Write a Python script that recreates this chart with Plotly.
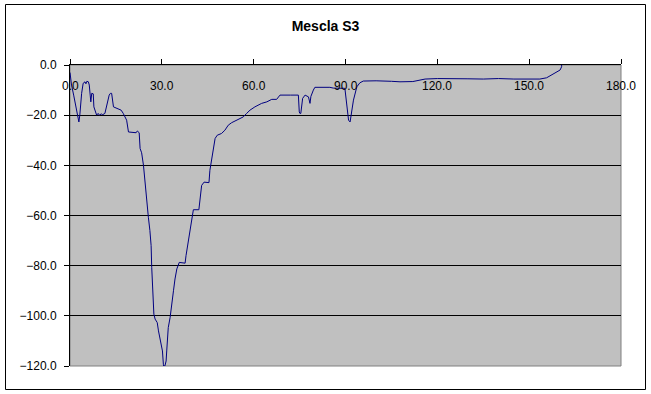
import plotly.graph_objects as go

# Data
x_vals = [0, 0.5, 1.2, 1.6, 2.2, 2.6, 2.9, 3.2, 3.5, 3.8, 4.3, 4.9, 5.2, 5.5, 6.0, 6.3, 6.6, 6.8, 7.1, 7.6,
          7.8, 8.3, 8.7, 9.2, 9.6, 10.2, 10.7, 11.4, 12.0, 12.8, 13.2, 13.6, 14.2, 15.2, 16.0, 16.7, 17.4, 18.0,
          18.5, 19.1, 20.5, 21.6, 22.0, 22.6, 22.9, 23.4, 24.0, 24.5, 25.0, 25.6, 26.1, 26.5, 26.7, 27.0, 27.4,
          27.8, 28.2, 28.5, 28.9, 29.6, 30.2, 30.5, 30.6, 31.0, 31.4, 31.6, 32.1, 32.7, 33.2, 33.8, 34.3, 34.9,
          35.7, 36.5, 37.6, 37.9, 38.7, 39.2, 39.8, 40.3, 42.1, 42.5, 43.0, 43.8, 45.4, 45.7, 46.3, 46.8, 47.4,
          48.1, 49.5, 50.6, 51.7, 52.8, 54.5, 56.6, 57.7, 58.8, 60.4, 62.6, 64.3, 65.9, 67.5, 68.6, 72.0, 74.6,
          74.9, 75.1, 75.4, 76.0, 76.8, 77.9, 78.4, 78.7, 79.5, 80.0, 84.9, 86.0, 89.8, 90.4, 91.0, 91.5, 92.0,
          92.6, 93.7, 94.7, 95.8, 100, 105, 107.8, 112, 116, 120, 125, 130, 135, 140, 145, 150, 153.5, 155.7,
          156.8, 157.9, 159.0, 160.1, 160.6, 160.6]
y_vals = [-3, -8, -12, -14.7, -18, -21, -22.7, -20, -15, -11.3, -7.3, -6.7, -7.5, -6.5, -6.7, -8, -12, -14.7,
          -11.3, -11.5, -16.7, -18.5, -20, -19.3, -20, -19.5, -19.8, -19.3, -16, -12, -11.3, -11.3, -16.7, -17.3,
          -17.5, -18, -19.3, -20.5, -22, -26.7, -26.7, -27, -26.3, -27, -33.3, -35, -40, -46.7, -54.7, -60.7,
          -66, -72, -80.7, -90, -99.3, -101.3, -102.5, -102.7, -106, -110, -114, -119.3, -120, -120, -118, -114,
          -104.7, -100.7, -96.7, -90, -85.3, -81.3, -78.7, -78.7, -79, -76, -70, -64.7, -60, -57.7, -57.7, -54,
          -48, -46.7, -46.9, -42, -38, -33.3, -29.3, -28, -27.3, -26, -24, -23, -22, -20.7, -19.3, -18, -16.7,
          -15.3, -14.7, -13.7, -13.7, -12, -12, -12, -18.7, -19.3, -19.3, -13.3, -12, -12.7, -15.3, -12.5, -10,
          -8.9, -8.9, -9.2, -9.3, -16.7, -22, -22.7, -19.3, -14, -8.7, -7.1, -6.4, -6.3, -6.5, -6.7, -6.6, -5.6,
          -5.4, -5.6, -5.5, -5.6, -5.4, -5.6, -5.5, -5.6, -5.1, -4.3, -3.3, -2.5, -2, -0.7, 0]

title_text = "Mescla S3"
x_ticks = [0, 30, 60, 90, 120, 150, 180]
x_range = [0, 180]
y_range = [-120, 0]

font_family = "Liberation Sans, Arial, sans-serif"

fig = go.Figure()
fig.add_trace(go.Scatter(x=x_vals, y=y_vals, mode="lines",
                         line=dict(color="#000080", width=1), showlegend=False))

W, H = 651, 394
L, R, T, B = 70, 30, 65, 28
pw, ph = W - L - R, H - T - B

def px_to_paper_x(px):
    return (px - L) / pw

def px_to_paper_y(py):
    return (H - B - py) / ph

shapes = [
    dict(type="rect", xref="paper", yref="paper", x0=0, x1=1, y0=0, y1=1,
         line=dict(color="#808080", width=1), layer="below"),
    dict(type="rect", xref="paper", yref="paper",
         x0=px_to_paper_x(5.5), x1=px_to_paper_x(645.5),
         y0=px_to_paper_y(389.5), y1=px_to_paper_y(4.5),
         line=dict(color="black", width=1)),
]

annotations = [
    dict(x=t, xref="x", y=px_to_paper_y(86), yref="paper", text=f"{t:.1f}",
         showarrow=False, xanchor="center", yanchor="middle",
         font=dict(size=12, family=font_family, color="black"))
    for t in x_ticks
]

fig.update_layout(
    width=W, height=H,
    margin=dict(l=L, r=R, t=T, b=B, autoexpand=False),
    paper_bgcolor="white",
    plot_bgcolor="#C0C0C0",
    font=dict(family=font_family, size=12, color="black"),
    title=dict(text="<b>" + title_text + "</b>", x=0.5, xref="container", xanchor="center",
               y=1 - 26 / H, yref="container", yanchor="middle",
               font=dict(size=14, family=font_family, color="black")),
    shapes=shapes,
    annotations=annotations,
    xaxis=dict(range=x_range, tickvals=x_ticks,
               side="top", ticks="outside", ticklen=5, tickcolor="black", tickwidth=1,
               showticklabels=False, showgrid=False, zeroline=False,
               showline=True, linecolor="black", linewidth=1),
    yaxis=dict(range=y_range, dtick=20, tick0=0, tickformat=".1f",
               ticks="outside", ticklen=5, tickcolor="black", tickwidth=1,
               ticklabelstandoff=5,
               showgrid=True, gridcolor="black", gridwidth=1, zeroline=False,
               showline=True, linecolor="black", linewidth=1,
               tickfont=dict(size=12, family=font_family, color="black")),
)

fig.write_html("out.html")
